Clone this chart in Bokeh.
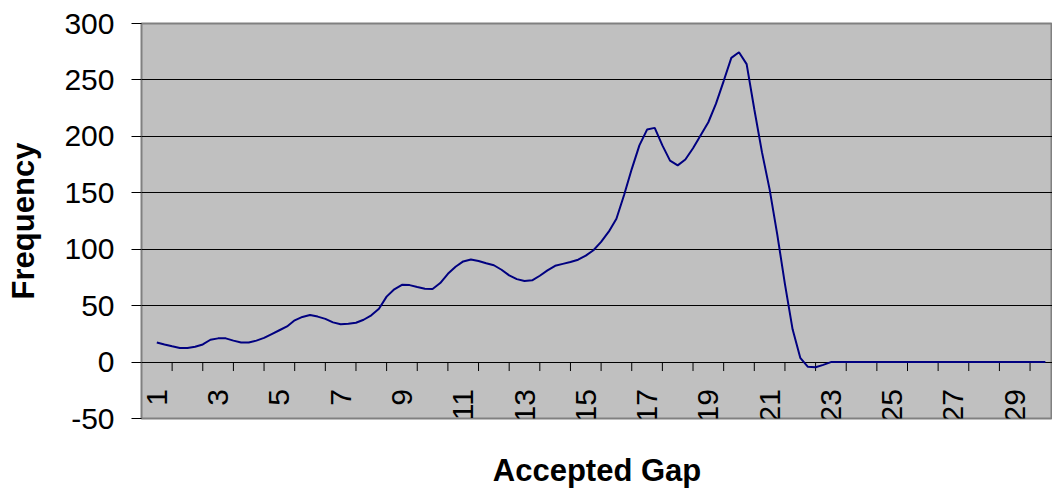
import math
from bokeh.plotting import figure
from bokeh.models import Range1d, FixedTicker
from bokeh.core.properties import value
from bokeh.embed import file_html
from bokeh.resources import INLINE

# ---- data ----
categories = list(range(1, 31))
tick_labels = [str(c) for c in categories if c % 2 == 1]
y_ticks = [-50, 0, 50, 100, 150, 200, 250, 300]
y_tick_labels = [str(t) for t in y_ticks]

# curve every quarter of a category
gap = [1 + 0.25 * i for i in range(117)]
freq = [
    17.3, 15.6, 14.0, 12.5,
    12.4, 13.6, 15.6, 19.8,
    21.0, 21.0, 19.0, 17.3,
    17.3, 19.0, 21.4, 24.8,
    28.2, 31.6, 37.0, 40.0,
    41.7, 40.3, 38.3, 35.2,
    33.5, 34.0, 34.8, 37.5,
    41.4, 47.3, 58.0, 64.5,
    68.5, 68.2, 66.5, 65.0,
    64.8, 70.0, 78.2, 84.5,
    89.2, 90.8, 89.5, 87.5,
    85.8, 81.8, 76.8, 73.5,
    71.8, 72.4, 76.5, 81.2,
    85.3, 87.0, 88.6, 90.7,
    94.3, 99.1, 106.5, 115.5,
    127.0, 148.0, 171.0, 192.0,
    206.0, 207.5, 192.0, 178.5,
    174.3, 179.5, 189.5, 201.0,
    212.5, 229.0, 249.0, 269.5,
    274.5, 264.0, 224.0, 186.0,
    153.0, 113.0, 69.0, 29.0,
    3.8, -4.2, -4.6, -2.5,
    0, 0, 0, 0,
    0, 0, 0, 0,
    0, 0, 0, 0,
    0, 0, 0, 0,
    0, 0, 0, 0,
    0, 0, 0, 0,
    0, 0, 0, 0,
    0,
]

# ---- layout ----
W, H = 1052, 490
ML, MT, MB = 141, 23, 70
frame_w = W - ML
frame_h = H - MT - MB
cat_w = 30.64
x_lo = categories[0] - 0.5
x_hi = x_lo + frame_w / cat_w
y_lo, y_hi = y_ticks[0], y_ticks[-1]
ppu = frame_h / (y_hi - y_lo)

FONT = "Liberation Sans"

p = figure(width=W, height=H, x_range=Range1d(x_lo, x_hi), y_range=Range1d(y_lo, y_hi),
           output_backend="svg", toolbar_location=None,
           min_border_left=ML, min_border_right=0, min_border_top=MT, min_border_bottom=MB,
           background_fill_color="#C0C0C0", border_fill_color="white",
           outline_line_color="#808080", outline_line_width=2)

p.xgrid.visible = False
p.ygrid.ticker = FixedTicker(ticks=[t for t in y_ticks if y_lo < t < y_hi])
p.ygrid.grid_line_color = "black"
p.ygrid.grid_line_width = 1

# x axis: only carries the title (category labels are drawn at the zero line)
xa = p.xaxis[0]
xa.ticker = FixedTicker(ticks=[])
xa.axis_line_color = None
xa.major_tick_out = 0
xa.major_tick_in = 0
xa.minor_tick_out = 0
xa.minor_tick_in = 0
xa.major_label_standoff = 0
xa.axis_label = "Accepted Gap"
xa.axis_label_text_font = FONT
xa.axis_label_text_font_size = "31px"
xa.axis_label_text_font_style = "bold"
xa.axis_label_text_color = "black"
xa.axis_label_standoff = 34

ax = p.yaxis[0]
ax.ticker = FixedTicker(ticks=y_ticks)
ax.major_label_overrides = dict(zip(y_ticks, y_tick_labels))
ax.axis_line_color = None
ax.major_tick_out = 10
ax.major_tick_in = 0
ax.minor_tick_out = 0
ax.minor_tick_in = 0
ax.major_tick_line_color = "black"
ax.major_label_standoff = 17
ax.major_label_text_font = FONT
ax.major_label_text_font_size = "30px"
ax.major_label_text_color = "black"
ax.axis_label = "Frequency"
ax.axis_label_text_font = FONT
ax.axis_label_text_font_size = "31px"
ax.axis_label_text_font_style = "bold"
ax.axis_label_text_color = "black"
ax.axis_label_standoff = 20

# category-axis tick marks at the boundaries between categories
bounds = [c + 0.5 for c in categories[:-1]]
p.segment(x0=bounds, y0=[0] * len(bounds), x1=bounds, y1=[-9 / ppu] * len(bounds),
          line_color="black", line_width=1)

# series
p.line(gap, freq, line_color="#000080", line_width=2)

# category labels, rotated, hanging below the zero line
odd = [c for c in categories if c % 2 == 1]
p.text(x=odd, y=[0] * len(odd), text=tick_labels, angle=math.pi / 2,
       text_align="right", text_baseline="middle", y_offset=27,
       text_font=value(FONT), text_font_size="30px", text_color="black")

open("out.html", "w").write(file_html(p, INLINE))
